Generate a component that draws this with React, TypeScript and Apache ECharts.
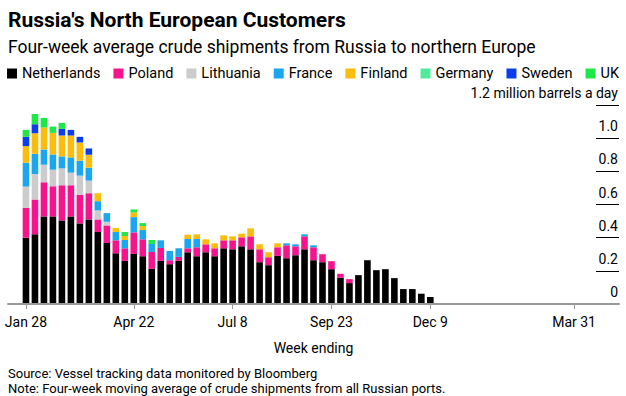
import React, { useEffect, useRef } from "react";
import * as echarts from "echarts";

// Weekly categories (week ending, Fridays) from 2022-01-14 to 2023-05-05
const firstWeek = "2022-01-14";
const weekCount = 69;
const leadingEmpty = 2; // Jan 14, Jan 21 have no bar
const tickLabels = ["Jan 28", "Apr 22", "Jul 8", "Sep 23", "Dec 9", "Mar 31"];
const tickDates = ["2022-01-28", "2022-04-22", "2022-07-08", "2022-09-23", "2022-12-09", "2023-03-31"];

const seriesNames = ["Netherlands", "Poland", "Lithuania", "France", "Finland", "Germany", "Sweden", "UK"];
const seriesColors = ["#000000", "#f5148c", "#cccccc", "#1ba6f0", "#fbbd0d", "#52ea9a", "#0b3ded", "#1ee845"];

// million barrels a day, bars from Jan 28 2022 to Dec 9 2022
const netherlands = [0.40, 0.42, 0.528, 0.528, 0.504, 0.528, 0.486, 0.51, 0.434, 0.368, 0.306, 0.26, 0.302, 0.288, 0.212, 0.26, 0.24, 0.26, 0.312, 0.288, 0.312, 0.288, 0.336, 0.33, 0.348, 0.33, 0.252, 0.234, 0.29, 0.276, 0.294, 0.33, 0.264, 0.252, 0.21, 0.158, 0.126, 0.174, 0.264, 0.204, 0.21, 0.156, 0.09, 0.09, 0.062, 0.042];
const poland = [0.18, 0.21, 0.206, 0.182, 0.212, 0.188, 0.172, 0.158, 0.076, 0.106, 0.078, 0.076, 0.13, 0.102, 0.102, 0.078, 0.024, 0.024, 0.024, 0.054, 0.048, 0.048, 0.048, 0.054, 0.054, 0.078, 0.078, 0.048, 0.052, 0.078, 0.054, 0.078, 0.078, 0.048, 0.048, 0.024, 0.024, 0, 0, 0, 0, 0, 0, 0, 0, 0];
const lithuania = [0.128, 0.154, 0.106, 0.10, 0.102, 0.076, 0.116, 0.076, 0.054, 0.022, 0, 0, 0, 0, 0, 0, 0, 0, 0, 0, 0, 0, 0, 0, 0, 0, 0, 0, 0, 0, 0, 0, 0, 0, 0, 0, 0, 0, 0, 0, 0, 0, 0, 0, 0, 0];
const france = [0.144, 0.122, 0.092, 0.092, 0.072, 0.092, 0.09, 0.078, 0.056, 0.052, 0.05, 0.05, 0.092, 0.056, 0.048, 0.046, 0.056, 0.052, 0.056, 0.05, 0, 0, 0, 0, 0, 0, 0, 0, 0, 0.012, 0.012, 0.012, 0.012, 0, 0, 0, 0, 0, 0, 0, 0, 0, 0, 0, 0, 0];
const finland = [0.10, 0.124, 0.132, 0.13, 0.126, 0.132, 0.11, 0.078, 0.048, 0, 0.024, 0.024, 0.028, 0.024, 0, 0, 0, 0, 0.026, 0.028, 0.03, 0.03, 0.03, 0.024, 0.022, 0.048, 0.03, 0.03, 0.024, 0, 0, 0, 0, 0, 0, 0, 0, 0, 0, 0, 0, 0, 0, 0, 0, 0];
const germany = [0, 0, 0, 0, 0, 0, 0, 0, 0, 0, 0, 0, 0, 0, 0, 0, 0, 0, 0, 0, 0, 0, 0, 0, 0, 0, 0, 0, 0, 0, 0, 0, 0, 0, 0, 0, 0, 0, 0, 0, 0, 0, 0, 0, 0, 0];
const sweden = [0.056, 0.054, 0, 0, 0.04, 0.034, 0.034, 0.038, 0, 0, 0, 0, 0, 0, 0, 0, 0, 0, 0, 0, 0, 0, 0, 0, 0, 0, 0, 0, 0, 0, 0, 0, 0, 0, 0, 0, 0, 0, 0, 0, 0, 0, 0, 0, 0, 0];
const uk = [0.042, 0.062, 0.058, 0.038, 0.036, 0, 0, 0, 0, 0, 0, 0.024, 0.018, 0.018, 0.024, 0, 0, 0, 0, 0, 0, 0, 0, 0, 0, 0, 0, 0, 0, 0, 0, 0, 0, 0, 0, 0, 0, 0, 0, 0, 0, 0, 0, 0, 0, 0];

const seriesValues = [netherlands, poland, lithuania, france, finland, germany, sweden, uk];

const FONT = "Roboto";
const MONTHS = ["Jan", "Feb", "Mar", "Apr", "May", "Jun", "Jul", "Aug", "Sep", "Oct", "Nov", "Dec"];

function buildCategories(): string[] {
  const out: string[] = [];
  const start = new Date(firstWeek + "T00:00:00Z").getTime();
  for (let i = 0; i < weekCount; i++) {
    const d = new Date(start + i * 7 * 86400000);
    out.push(d.toISOString().slice(0, 10));
  }
  return out;
}

export default function App() {
  const ref = useRef<HTMLDivElement>(null);
  useEffect(() => {
    document.body.style.margin = "0";
    if (!ref.current) return;
    const chart = echarts.init(ref.current, null, { renderer: "svg" });
    const categories = buildCategories();
    const tickSet = new Set(tickDates);
    const showTick = (_i: number, v: string) => tickSet.has(v);
    const fmtDate = (v: string) => {
      const idx = tickDates.indexOf(v);
      if (idx >= 0) return tickLabels[idx];
      const d = new Date(v + "T00:00:00Z");
      return MONTHS[d.getUTCMonth()] + " " + d.getUTCDate();
    };
    const series = seriesNames.map((name, k) => {
      const vals = seriesValues[k];
      const data: (number | null)[] = [];
      for (let i = 0; i < categories.length; i++) {
        const j = i - leadingEmpty;
        data.push(j >= 0 && j < vals.length ? vals[j] : null);
      }
      return {
        name,
        type: "bar",
        stack: "total",
        barWidth: 6.6,
        itemStyle: { color: seriesColors[k] },
        data,
      };
    });
    chart.setOption({
      animation: false,
      textStyle: { fontFamily: FONT },
      title: [
        {
          text: "Russia's North European Customers",
          left: 3,
          top: 4,
          textStyle: { fontFamily: FONT, fontSize: 21, fontWeight: "bold", color: "#000" },
        },
        {
          text: "Four-week average crude shipments from Russia to northern Europe",
          left: 3,
          top: 33,
          textStyle: { fontFamily: FONT, fontSize: 17.5, fontWeight: "normal", color: "#000" },
        },
        {
          text: "Source: Vessel tracking data monitored by Bloomberg",
          left: 3,
          top: 362,
          textStyle: { fontFamily: FONT, fontSize: 13, fontWeight: "normal", color: "#000" },
        },
        {
          text: "Note: Four-week moving average of crude shipments from all Russian ports.",
          left: 3,
          top: 377,
          textStyle: { fontFamily: FONT, fontSize: 13, fontWeight: "normal", color: "#000" },
        },
      ],
      legend: {
        left: 2,
        top: 61,
        icon: "rect",
        itemWidth: 10,
        itemHeight: 10,
        itemGap: 13,
        textStyle: { fontFamily: FONT, fontSize: 14.5, color: "#000" },
        data: seriesNames,
      },
      grid: { left: 8, right: 7, top: 105, bottom: 92 },
      xAxis: {
        type: "category",
        data: categories,
        boundaryGap: false,
        z: 5,
        axisLine: { lineStyle: { color: "#999", width: 2 } },
        axisTick: { show: true, interval: showTick, length: 5, lineStyle: { color: "#999" } },
        axisLabel: {
          interval: showTick,
          formatter: fmtDate,
          fontFamily: FONT,
          fontSize: 14,
          color: "#000",
          margin: 11,
        },
        name: "Week ending",
        nameLocation: "middle",
        nameGap: 37,
        nameTextStyle: { fontFamily: FONT, fontSize: 14, color: "#000" },
      },
      yAxis: {
        type: "value",
        position: "right",
        min: 0,
        max: 1.2,
        interval: 0.2,
        z: 2,
        axisLine: { show: false },
        splitLine: { show: false },
        axisTick: { show: true, inside: true, length: 23, lineStyle: { color: "#000", width: 1 } },
        axisLabel: {
          inside: true,
          margin: 1,
          verticalAlign: "bottom",
          padding: [0, 0, 5, 0],
          fontFamily: FONT,
          fontSize: 14,
          color: "#000",
          formatter: (v: number) =>
            Math.abs(v - 1.2) < 1e-6 ? "1.2 million barrels a day" : v === 0 ? "0" : v.toFixed(1),
        },
      },
      series,
    });
    return () => chart.dispose();
  }, []);
  return <div ref={ref} style={{ width: 626, height: 396 }} />;
}
